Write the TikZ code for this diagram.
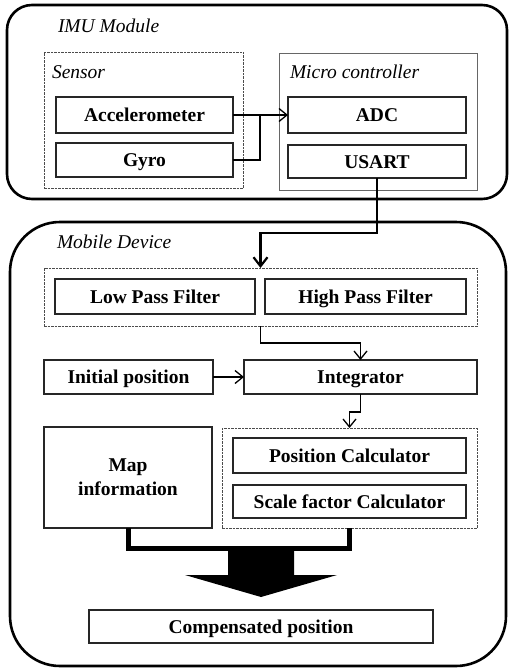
\documentclass[tikz,border=0pt]{standalone}
\usepackage{fontspec}
\setmainfont{Liberation Serif}
\usetikzlibrary{arrows.meta}
\begin{document}
\begin{tikzpicture}[x=1pt,y=-1pt,
  every node/.style={inner sep=0pt, outer sep=0pt, anchor=north west},
  outerbox/.style={draw=black, line width=2.6pt, rounded corners=#1, rectangle},
  dashbox/.style={draw=black!70, line width=0.8pt, dash pattern=on 2.5pt off 1pt, rectangle},
  solidthin/.style={draw=black!60, line width=0.8pt, rectangle},
  blkbase/.style={draw=black!85, line width=1.1pt, rectangle, align=center,
    font=\fontsize{19.5}{24}\selectfont\bfseries},
  blk/.style={blkbase, text height=13pt, text depth=0pt},
  lab/.style={anchor=base west, font=\fontsize{19.5}{23}\selectfont\itshape},
  thinarrow/.style={draw=black, line width=1.3pt, -{Straight Barb[length=8pt,width=13pt,line width=1.3pt]}},
  thickarrow/.style={draw=black, line width=2.4pt, -{Straight Barb[length=9pt,width=14pt,line width=2.2pt]}}
]
\useasboundingbox (0,0) rectangle (510,669);

% containers
\node[outerbox=25pt, minimum width=500pt, minimum height=194pt] (imu) at (7,5) {};
\node[outerbox=50pt, minimum width=496pt, minimum height=444pt] (mobile) at (10,222) {};
\node[dashbox, minimum width=199pt, minimum height=136pt] (sensor) at (44,52) {};
\node[solidthin, minimum width=198pt, minimum height=137pt] (micro) at (279,53) {};
\node[dashbox, minimum width=433pt, minimum height=58pt] (filt) at (44,268) {};
\node[dashbox, minimum width=255pt, minimum height=100pt] (calc) at (222,428) {};

% labels
\node[lab] (limu) at (58,33) {IMU Module};
\node[lab] (lsensor) at (52,78) {Sensor};
\node[lab] (lmicro) at (290,78) {Micro controller};
\node[lab] (lmobile) at (57,248) {Mobile Device};

% blocks
\node[blk, minimum width=177pt, minimum height=36pt] (acc) at (56,97) {Accelerometer};
\node[blk, minimum width=177pt, minimum height=34pt] (gyro) at (56,143) {Gyro};
\node[blk, minimum width=178pt, minimum height=36pt] (adc) at (288,97) {ADC};
\node[blk, minimum width=178pt, minimum height=33pt] (usart) at (288,145) {USART};
\node[blk, minimum width=200pt, minimum height=35pt] (lpf) at (55,279) {Low Pass Filter};
\node[blk, minimum width=201pt, minimum height=35pt] (hpf) at (265,279) {High Pass Filter};
\node[blk, minimum width=169pt, minimum height=34pt] (init) at (44,360) {Initial position};
\node[blk, minimum width=233pt, minimum height=34pt] (integ) at (244,360) {Integrator};
\node[blkbase, minimum width=168pt, minimum height=101pt] (map) at (44,427) {Map\\information};
\node[blk, minimum width=233pt, minimum height=35pt] (pos) at (233,438) {Position Calculator};
\node[blk, minimum width=233pt, minimum height=33pt] (scale) at (233,485) {Scale factor Calculator};
\node[blk, minimum width=344pt, minimum height=33pt] (comp) at (89,610) {Compensated position};

% connectors
\coordinate (j1) at (260,115);
\draw[thinarrow] (acc.east) -- (adc.west);
\draw[draw=black, line width=1.3pt] (gyro.east) -| (j1);

\coordinate (k1) at (377,233);
\draw[thickarrow] (usart.south) -- (k1) -| (filt.north);

\draw[thinarrow] (filt.south) -- ++(0,17) -| (integ.north);
\draw[thinarrow] (init.east) -- (integ.west);
\draw[thinarrow] (integ.south) -- ++(0,18) -| (calc.north);

\draw[line width=5pt, miter limit=10] (map.south) -- ++(0,20) -| (calc.south);

% block arrow
\fill[black] (228,546) -- (294,546) -- (294,575) -- (337,575) -- (261,597)
  -- (185,575) -- (228,575) -- cycle;
\end{tikzpicture}
\end{document}
